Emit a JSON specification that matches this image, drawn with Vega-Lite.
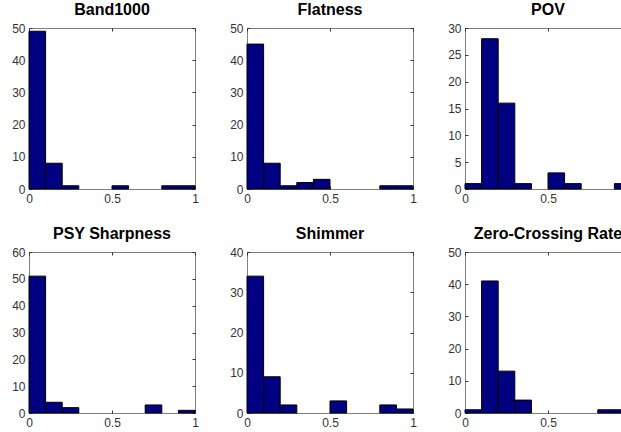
{
  "$schema": "https://vega.github.io/schema/vega-lite/v6.json",
  "background": "white",
  "padding": {"left": 11, "top": 1, "right": 0, "bottom": 0},
  "data": {
    "values": [
      {"feature": "Band1000", "bin_start": 0.0, "bin_end": 0.1, "count": 49},
      {"feature": "Band1000", "bin_start": 0.1, "bin_end": 0.2, "count": 8},
      {"feature": "Band1000", "bin_start": 0.2, "bin_end": 0.3, "count": 1},
      {"feature": "Band1000", "bin_start": 0.5, "bin_end": 0.6, "count": 1},
      {"feature": "Band1000", "bin_start": 0.8, "bin_end": 0.9, "count": 1},
      {"feature": "Band1000", "bin_start": 0.9, "bin_end": 1.0, "count": 1},
      {"feature": "Flatness", "bin_start": 0.0, "bin_end": 0.1, "count": 45},
      {"feature": "Flatness", "bin_start": 0.1, "bin_end": 0.2, "count": 8},
      {"feature": "Flatness", "bin_start": 0.2, "bin_end": 0.3, "count": 1},
      {"feature": "Flatness", "bin_start": 0.3, "bin_end": 0.4, "count": 2},
      {"feature": "Flatness", "bin_start": 0.4, "bin_end": 0.5, "count": 3},
      {"feature": "Flatness", "bin_start": 0.8, "bin_end": 0.9, "count": 1},
      {"feature": "Flatness", "bin_start": 0.9, "bin_end": 1.0, "count": 1},
      {"feature": "POV", "bin_start": 0.0, "bin_end": 0.1, "count": 1},
      {"feature": "POV", "bin_start": 0.1, "bin_end": 0.2, "count": 28},
      {"feature": "POV", "bin_start": 0.2, "bin_end": 0.3, "count": 16},
      {"feature": "POV", "bin_start": 0.3, "bin_end": 0.4, "count": 1},
      {"feature": "POV", "bin_start": 0.5, "bin_end": 0.6, "count": 3},
      {"feature": "POV", "bin_start": 0.6, "bin_end": 0.7, "count": 1},
      {"feature": "POV", "bin_start": 0.9, "bin_end": 1.0, "count": 1},
      {"feature": "PSY Sharpness", "bin_start": 0.0, "bin_end": 0.1, "count": 51},
      {"feature": "PSY Sharpness", "bin_start": 0.1, "bin_end": 0.2, "count": 4},
      {"feature": "PSY Sharpness", "bin_start": 0.2, "bin_end": 0.3, "count": 2},
      {"feature": "PSY Sharpness", "bin_start": 0.7, "bin_end": 0.8, "count": 3},
      {"feature": "PSY Sharpness", "bin_start": 0.9, "bin_end": 1.0, "count": 1},
      {"feature": "Shimmer", "bin_start": 0.0, "bin_end": 0.1, "count": 34},
      {"feature": "Shimmer", "bin_start": 0.1, "bin_end": 0.2, "count": 9},
      {"feature": "Shimmer", "bin_start": 0.2, "bin_end": 0.3, "count": 2},
      {"feature": "Shimmer", "bin_start": 0.5, "bin_end": 0.6, "count": 3},
      {"feature": "Shimmer", "bin_start": 0.8, "bin_end": 0.9, "count": 2},
      {"feature": "Shimmer", "bin_start": 0.9, "bin_end": 1.0, "count": 1},
      {"feature": "Zero-Crossing Rate", "bin_start": 0.0, "bin_end": 0.1, "count": 1},
      {"feature": "Zero-Crossing Rate", "bin_start": 0.1, "bin_end": 0.2, "count": 41},
      {"feature": "Zero-Crossing Rate", "bin_start": 0.2, "bin_end": 0.3, "count": 13},
      {"feature": "Zero-Crossing Rate", "bin_start": 0.3, "bin_end": 0.4, "count": 4},
      {"feature": "Zero-Crossing Rate", "bin_start": 0.8, "bin_end": 0.9, "count": 1},
      {"feature": "Zero-Crossing Rate", "bin_start": 0.9, "bin_end": 1.0, "count": 1}
    ]
  },
  "columns": 3,
  "spacing": {"row": 63, "column": 52},
  "bounds": "flush",
  "concat": [
    {
      "title": "Band1000", "width": 166, "height": 161,
      "transform": [{"filter": "datum.feature === 'Band1000'"}],
      "resolve": {"axis": {"x": "independent", "y": "independent"}},
      "layer": [
        {"mark": {"type": "rect", "fill": "#000080", "stroke": "black", "strokeWidth": 1},
         "encoding": {
           "x": {"field": "bin_start", "type": "quantitative", "scale": {"domain": [0, 1]}, "axis": {"values": [0, 0.5, 1], "format": "~g", "orient": "bottom"}},
           "x2": {"field": "bin_end"},
           "y": {"field": "count", "type": "quantitative", "scale": {"domain": [0, 50]}, "axis": {"values": [0, 10, 20, 30, 40, 50], "orient": "left"}}}},
        {"mark": {"type": "rect", "opacity": 0},
         "encoding": {
           "x": {"field": "bin_start", "type": "quantitative", "axis": {"values": [0, 0.5, 1], "orient": "top", "labels": false, "domain": false}},
           "x2": {"field": "bin_end"},
           "y": {"field": "count", "type": "quantitative", "axis": {"values": [0, 10, 20, 30, 40, 50], "orient": "right", "labels": false, "domain": false}}}}
      ]
    },
    {
      "title": "Flatness", "width": 166, "height": 161,
      "transform": [{"filter": "datum.feature === 'Flatness'"}],
      "resolve": {"axis": {"x": "independent", "y": "independent"}},
      "layer": [
        {"mark": {"type": "rect", "fill": "#000080", "stroke": "black", "strokeWidth": 1},
         "encoding": {
           "x": {"field": "bin_start", "type": "quantitative", "scale": {"domain": [0, 1]}, "axis": {"values": [0, 0.5, 1], "format": "~g", "orient": "bottom"}},
           "x2": {"field": "bin_end"},
           "y": {"field": "count", "type": "quantitative", "scale": {"domain": [0, 50]}, "axis": {"values": [0, 10, 20, 30, 40, 50], "orient": "left"}}}},
        {"mark": {"type": "rect", "opacity": 0},
         "encoding": {
           "x": {"field": "bin_start", "type": "quantitative", "axis": {"values": [0, 0.5, 1], "orient": "top", "labels": false, "domain": false}},
           "x2": {"field": "bin_end"},
           "y": {"field": "count", "type": "quantitative", "axis": {"values": [0, 10, 20, 30, 40, 50], "orient": "right", "labels": false, "domain": false}}}}
      ]
    },
    {
      "title": "POV", "width": 166, "height": 161,
      "transform": [{"filter": "datum.feature === 'POV'"}],
      "resolve": {"axis": {"x": "independent", "y": "independent"}},
      "layer": [
        {"mark": {"type": "rect", "fill": "#000080", "stroke": "black", "strokeWidth": 1},
         "encoding": {
           "x": {"field": "bin_start", "type": "quantitative", "scale": {"domain": [0, 1]}, "axis": {"values": [0, 0.5, 1], "format": "~g", "orient": "bottom"}},
           "x2": {"field": "bin_end"},
           "y": {"field": "count", "type": "quantitative", "scale": {"domain": [0, 30]}, "axis": {"values": [0, 5, 10, 15, 20, 25, 30], "orient": "left"}}}},
        {"mark": {"type": "rect", "opacity": 0},
         "encoding": {
           "x": {"field": "bin_start", "type": "quantitative", "axis": {"values": [0, 0.5, 1], "orient": "top", "labels": false, "domain": false}},
           "x2": {"field": "bin_end"},
           "y": {"field": "count", "type": "quantitative", "axis": {"values": [0, 5, 10, 15, 20, 25, 30], "orient": "right", "labels": false, "domain": false}}}}
      ]
    },
    {
      "title": "PSY Sharpness", "width": 166, "height": 161,
      "transform": [{"filter": "datum.feature === 'PSY Sharpness'"}],
      "resolve": {"axis": {"x": "independent", "y": "independent"}},
      "layer": [
        {"mark": {"type": "rect", "fill": "#000080", "stroke": "black", "strokeWidth": 1},
         "encoding": {
           "x": {"field": "bin_start", "type": "quantitative", "scale": {"domain": [0, 1]}, "axis": {"values": [0, 0.5, 1], "format": "~g", "orient": "bottom"}},
           "x2": {"field": "bin_end"},
           "y": {"field": "count", "type": "quantitative", "scale": {"domain": [0, 60]}, "axis": {"values": [0, 10, 20, 30, 40, 50, 60], "orient": "left"}}}},
        {"mark": {"type": "rect", "opacity": 0},
         "encoding": {
           "x": {"field": "bin_start", "type": "quantitative", "axis": {"values": [0, 0.5, 1], "orient": "top", "labels": false, "domain": false}},
           "x2": {"field": "bin_end"},
           "y": {"field": "count", "type": "quantitative", "axis": {"values": [0, 10, 20, 30, 40, 50, 60], "orient": "right", "labels": false, "domain": false}}}}
      ]
    },
    {
      "title": "Shimmer", "width": 166, "height": 161,
      "transform": [{"filter": "datum.feature === 'Shimmer'"}],
      "resolve": {"axis": {"x": "independent", "y": "independent"}},
      "layer": [
        {"mark": {"type": "rect", "fill": "#000080", "stroke": "black", "strokeWidth": 1},
         "encoding": {
           "x": {"field": "bin_start", "type": "quantitative", "scale": {"domain": [0, 1]}, "axis": {"values": [0, 0.5, 1], "format": "~g", "orient": "bottom"}},
           "x2": {"field": "bin_end"},
           "y": {"field": "count", "type": "quantitative", "scale": {"domain": [0, 40]}, "axis": {"values": [0, 10, 20, 30, 40], "orient": "left"}}}},
        {"mark": {"type": "rect", "opacity": 0},
         "encoding": {
           "x": {"field": "bin_start", "type": "quantitative", "axis": {"values": [0, 0.5, 1], "orient": "top", "labels": false, "domain": false}},
           "x2": {"field": "bin_end"},
           "y": {"field": "count", "type": "quantitative", "axis": {"values": [0, 10, 20, 30, 40], "orient": "right", "labels": false, "domain": false}}}}
      ]
    },
    {
      "title": "Zero-Crossing Rate", "width": 166, "height": 161,
      "transform": [{"filter": "datum.feature === 'Zero-Crossing Rate'"}],
      "resolve": {"axis": {"x": "independent", "y": "independent"}},
      "layer": [
        {"mark": {"type": "rect", "fill": "#000080", "stroke": "black", "strokeWidth": 1},
         "encoding": {
           "x": {"field": "bin_start", "type": "quantitative", "scale": {"domain": [0, 1]}, "axis": {"values": [0, 0.5, 1], "format": "~g", "orient": "bottom"}},
           "x2": {"field": "bin_end"},
           "y": {"field": "count", "type": "quantitative", "scale": {"domain": [0, 50]}, "axis": {"values": [0, 10, 20, 30, 40, 50], "orient": "left"}}}},
        {"mark": {"type": "rect", "opacity": 0},
         "encoding": {
           "x": {"field": "bin_start", "type": "quantitative", "axis": {"values": [0, 0.5, 1], "orient": "top", "labels": false, "domain": false}},
           "x2": {"field": "bin_end"},
           "y": {"field": "count", "type": "quantitative", "axis": {"values": [0, 10, 20, 30, 40, 50], "orient": "right", "labels": false, "domain": false}}}}
      ]
    }
  ],
  "config": {
    "font": "Liberation Sans",
    "view": {"stroke": "#7f7f7f", "strokeWidth": 1},
    "axis": {
      "title": null,
      "grid": false,
      "domain": false,
      "tickSize": -3,
      "tickColor": "#333333",
      "tickWidth": 1,
      "labelPadding": 7,
      "labelFont": "Liberation Sans",
      "labelFontSize": 12,
      "labelColor": "#333333",
      "labelFlush": false,
      "labelOverlap": false
    },
    "title": {
      "font": "Liberation Sans",
      "fontSize": 16,
      "fontWeight": "bold",
      "color": "black",
      "anchor": "middle",
      "offset": 0
    }
  }
}
